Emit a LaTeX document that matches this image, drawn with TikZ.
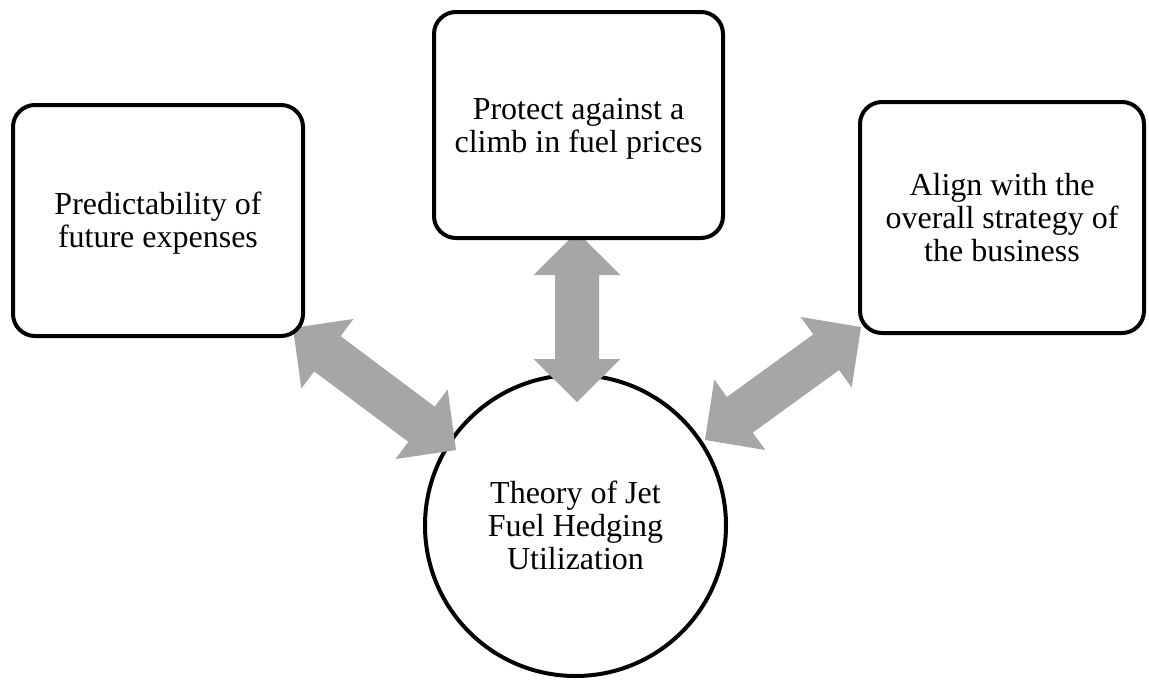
\documentclass[tikz,border=0pt]{standalone}
\usepackage{fontspec}
\setmainfont{Liberation Serif}
\usetikzlibrary{calc}
\definecolor{arrowgray}{RGB}{166,166,166}
\newcommand\topstrut{\rule{0pt}{0.89em}}
\newcommand\botstrut{\rule[-0.22em]{0pt}{0.22em}}
\newcommand\dblblockarrow[3]{% #1 from, #2 to, #3 name prefix
  \coordinate (#3h1) at ($(#1)!43pt!(#2)$);
  \coordinate (#3h2) at ($(#2)!43pt!(#1)$);
  \fill[blockarrow] (#1)
    -- ($(#3h1)!43.5pt!90:(#2)$)
    -- ($(#3h1)!22pt!90:(#2)$)
    -- ($(#3h2)!22pt!-90:(#1)$)
    -- ($(#3h2)!43.5pt!-90:(#1)$)
    -- (#2)
    -- ($(#3h2)!43.5pt!90:(#1)$)
    -- ($(#3h2)!22pt!90:(#1)$)
    -- ($(#3h1)!22pt!-90:(#2)$)
    -- ($(#3h1)!43.5pt!-90:(#2)$)
    -- cycle;
}
\tikzset{
  label text/.style={align=center, inner sep=0pt, text=black,
    font=\fontsize{32}{33.2}\selectfont},
  box/.style={label text, draw=black, line width=4pt, fill=white,
    rounded corners=22pt, rectangle},
  hub/.style={label text, draw=black, line width=4pt, fill=white,
    circle, minimum size=301pt},
  blockarrow/.style={fill=arrowgray},
}
\begin{document}
\begin{tikzpicture}[x=1pt,y=-1pt]
  \fill[white] (0,0) rectangle (1149,681);
  \useasboundingbox (0,0) rectangle (1149,681);
  % central circle
  \node[hub] (hub) at (575.5,525.5)
    {\topstrut Theory of Jet\\Fuel Hedging\\Utilization\botstrut};
  % connector end points
  \coordinate (tA) at (577,232);
  \coordinate (tB) at (577,402);
  \coordinate (lA) at (293,328);
  \coordinate (lB) at (456,450);
  \coordinate (rA) at (861,327);
  \coordinate (rB) at (705,440);
  \dblblockarrow{tA}{tB}{t}
  \dblblockarrow{lA}{lB}{l}
  \dblblockarrow{rA}{rB}{r}
  % boxes
  \node[box, minimum width=290pt, minimum height=231pt] (left) at (158,220.5)
    {\topstrut Predictability of\\future expenses\botstrut};
  \node[box, minimum width=289pt, minimum height=226pt] (top) at (578.5,125)
    {\topstrut Protect against a\\climb in fuel prices\botstrut};
  \node[box, minimum width=284pt, minimum height=231pt] (right) at (1002,217.5)
    {\topstrut Align with the\\overall strategy of\\the business\botstrut};
\end{tikzpicture}
\end{document}
